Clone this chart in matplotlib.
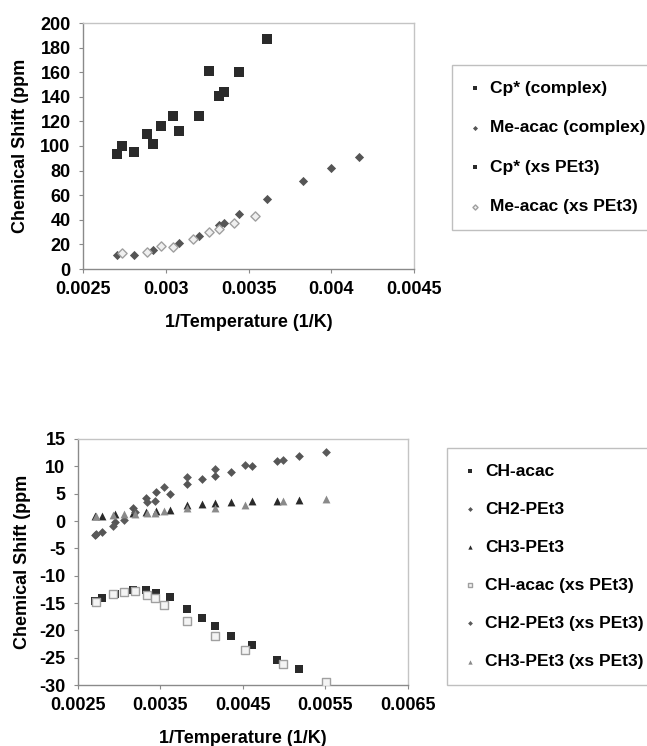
import matplotlib
matplotlib.use("Agg")
import matplotlib.pyplot as plt
from matplotlib.ticker import FixedLocator

plt.rcParams['font.family'] = ['Liberation Sans', 'DejaVu Sans']
plt.rcParams['font.weight'] = 'bold'
plt.rcParams['axes.unicode_minus'] = False

# ---------------- top chart data ----------------
cp_complex_x = [0.002706, 0.002807, 0.002924, 0.003082, 0.003201, 0.003322, 0.003350, 0.003441, 0.003613]
cp_complex_y = [93.5, 95.4, 102, 112, 124.3, 140.8, 143.8, 160, 187]
meacac_complex_x = [0.002706, 0.002807, 0.002924, 0.003082, 0.003201, 0.003322, 0.003350, 0.003441, 0.003609, 0.003831, 0.004001, 0.004169]
meacac_complex_y = [11.1, 11.1, 15.4, 20.8, 26.8, 35.4, 37.3, 45.1, 57.3, 71.4, 82.4, 91.1]
cp_xs_x = [0.002736, 0.002884, 0.002971, 0.003041, 0.003260]
cp_xs_y = [100, 109.5, 116.5, 124.3, 160.8]
meacac_xs_x = [0.002734, 0.002884, 0.002971, 0.003041, 0.003163, 0.003260, 0.003322, 0.003415, 0.003540]
meacac_xs_y = [13, 13.8, 18.6, 18.1, 24.3, 29.7, 32.7, 37.3, 43.2]

top_xticks = [0.0025, 0.003, 0.0035, 0.004, 0.0045]
top_xticklabels = ["0.0025", "0.003", "0.0035", "0.004", "0.0045"]
top_yticks = [0, 20, 40, 60, 80, 100, 120, 140, 160, 180, 200]
top_yticklabels = ["0", "20", "40", "60", "80", "100", "120", "140", "160", "180", "200"]

# ---------------- bottom chart data ----------------
cx = [0.00270, 0.00279, 0.00295, 0.00317, 0.00332, 0.00344, 0.00361, 0.00382, 0.00400, 0.004165, 0.00436, 0.00461, 0.00491, 0.00518]
xs_x = [0.00272, 0.00292, 0.00306, 0.00319, 0.00334, 0.00343, 0.00354, 0.00382, 0.004165, 0.00452, 0.00498, 0.00551]
ch_acac_y = [-14.6, -14.1, -13.3, -12.6, -12.6, -13.1, -13.9, -16.1, -17.7, -19.2, -21.0, -22.6, -25.5, -27.1]
ch2_y = [-2.5, -2.1, -0.2, 2.4, 4.2, 5.3, 5.0, 6.7, 7.7, 8.3, 9.0, 10.0, 11.0, 11.8]
ch3_y = [1.0, 1.0, 1.2, 1.4, 1.6, 1.8, 2.0, 3.0, 3.1, 3.3, 3.45, 3.75, 3.75, 3.9]
ch_acac_xs_y = [-14.8, -13.3, -12.9, -12.8, -13.6, -14.1, -15.4, -18.3, -21.0, -23.6, -26.2, -29.5]
ch2_xs_y = [-2.3, -0.9, 0.2, 1.6, 3.5, 3.6, 6.2, 8.0, 9.5, 10.3, 11.2, 12.7]
ch3_xs_y = [1.0, 1.1, 1.2, 1.3, 1.4, 1.5, 1.9, 2.3, 2.4, 2.95, 3.75, 4.0]

bot_xticks = [0.0025, 0.0035, 0.0045, 0.0055, 0.0065]
bot_xticklabels = ["0.0025", "0.0035", "0.0045", "0.0055", "0.0065"]
bot_yticks = [-30, -25, -20, -15, -10, -5, 0, 5, 10, 15]
bot_yticklabels = ["-30", "-25", "-20", "-15", "-10", "-5", "0", "5", "10", "15"]

W, H = 647, 746
fig = plt.figure(figsize=(W / 100, H / 100), dpi=100)

def px_axes(left, top, right, bottom):
    return fig.add_axes([left / W, 1 - bottom / H, (right - left) / W, (bottom - top) / H])

frame_col = '#c4c4c4'
axis_col = '#8a8a8a'
FS = 13

def style(ax):
    for s in ['top', 'right']:
        ax.spines[s].set_color(frame_col)
        ax.spines[s].set_linewidth(1.0)
    for s in ['left', 'bottom']:
        ax.spines[s].set_color(axis_col)
        ax.spines[s].set_linewidth(1.0)
    ax.tick_params(axis='both', direction='out', length=3, width=0.8, color=axis_col,
                   labelsize=FS, pad=6)
    for lab in ax.get_xticklabels() + ax.get_yticklabels():
        lab.set_fontweight('bold')

# ---- top axes ----
ax1 = px_axes(83, 23, 414, 269)
ax1.scatter(cp_complex_x, cp_complex_y, marker='s', s=42, c='#2a2a2a', linewidths=0, label='Cp* (complex)', zorder=3)
ax1.scatter(meacac_complex_x, meacac_complex_y, marker='D', s=22, c='#555555', linewidths=0, label='Me-acac (complex)', zorder=3)
ax1.scatter(cp_xs_x, cp_xs_y, marker='s', s=42, c='#2a2a2a', linewidths=0, label='Cp* (xs PEt3)', zorder=3)
ax1.scatter(meacac_xs_x, meacac_xs_y, marker='D', s=22, facecolors='#f0f0f0', edgecolors='#a0a0a0', linewidths=1.0, label='Me-acac (xs PEt3)', zorder=3)
ax1.set_xlim(0.0025, 0.0045)
ax1.set_ylim(0, 200)
ax1.xaxis.set_major_locator(FixedLocator(top_xticks))
ax1.set_xticklabels(top_xticklabels)
ax1.yaxis.set_major_locator(FixedLocator(top_yticks))
ax1.set_yticklabels(top_yticklabels)
style(ax1)
ax1.set_xlabel('1/Temperature (1/K)', fontsize=FS, fontweight='bold', labelpad=11)
ax1.set_ylabel('Chemical Shift (ppm', fontsize=FS, fontweight='bold', labelpad=8)

leg1 = ax1.legend(loc='upper left', bbox_to_anchor=(452 / W, 1 - 65 / H), bbox_transform=fig.transFigure,
                  frameon=True, fancybox=False, prop={'weight': 'bold', 'size': 12.5},
                  labelspacing=1.4, handletextpad=0.4, borderpad=0.9, markerscale=0.55,
                  handlelength=0.9, borderaxespad=0)
leg1.get_frame().set_edgecolor('#b0b0b0')
leg1.get_frame().set_linewidth(1.0)

# ---- bottom axes ----
ax2 = px_axes(78, 439, 408, 685)
ax2.scatter(cx, ch_acac_y, marker='s', s=34, c='#2a2a2a', linewidths=0, label='CH-acac', zorder=3)
ax2.scatter(cx, ch2_y, marker='D', s=20, c='#555555', linewidths=0, label='CH2-PEt3', zorder=3)
ax2.scatter(cx, ch3_y, marker='^', s=32, c='#2a2a2a', linewidths=0, label='CH3-PEt3', zorder=3)
ax2.scatter(xs_x, ch_acac_xs_y, marker='s', s=34, facecolors='#f4f4f4', edgecolors='#a0a0a0', linewidths=1.0, label='CH-acac (xs PEt3)', zorder=3)
ax2.scatter(xs_x, ch2_xs_y, marker='D', s=20, c='#5a5a5a', linewidths=0, label='CH2-PEt3 (xs PEt3)', zorder=3)
ax2.scatter(xs_x, ch3_xs_y, marker='^', s=32, c='#8a8a8a', linewidths=0, label='CH3-PEt3 (xs PEt3)', zorder=3)
ax2.set_xlim(0.0025, 0.0065)
ax2.set_ylim(-30, 15)
ax2.xaxis.set_major_locator(FixedLocator(bot_xticks))
ax2.set_xticklabels(bot_xticklabels)
ax2.yaxis.set_major_locator(FixedLocator(bot_yticks))
ax2.set_yticklabels(bot_yticklabels)
style(ax2)
ax2.set_xlabel('1/Temperature (1/K)', fontsize=FS, fontweight='bold', labelpad=11)
ax2.set_ylabel('Chemical Shift (ppm', fontsize=FS, fontweight='bold', labelpad=6)

leg2 = ax2.legend(loc='upper left', bbox_to_anchor=(447 / W, 1 - 448 / H), bbox_transform=fig.transFigure,
                  frameon=True, fancybox=False, prop={'weight': 'bold', 'size': 12.5},
                  labelspacing=1.32, handletextpad=0.4, borderpad=0.9, markerscale=0.55,
                  handlelength=0.9, borderaxespad=0)
leg2.get_frame().set_edgecolor('#b0b0b0')
leg2.get_frame().set_linewidth(1.0)

fig.savefig('out.png', dpi=100, facecolor='white')
